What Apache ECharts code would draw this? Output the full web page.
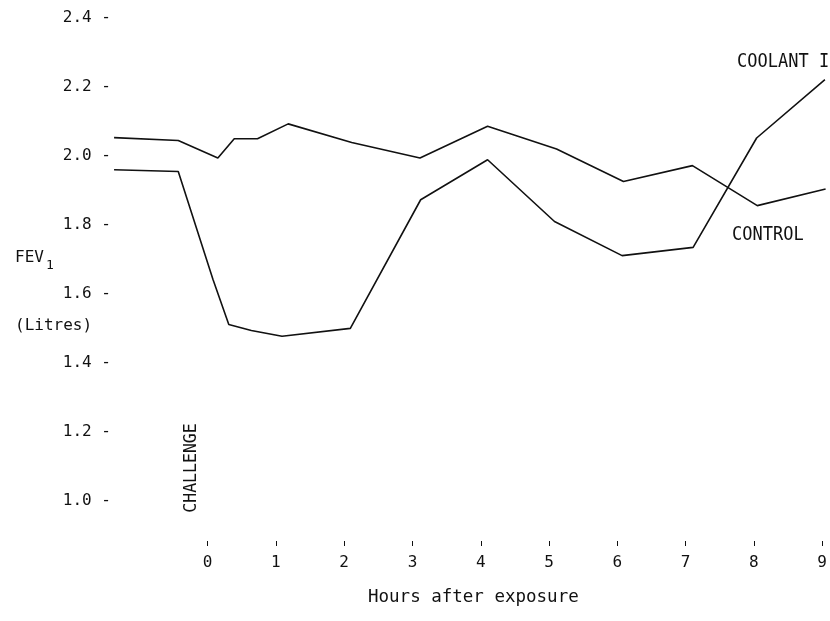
<!DOCTYPE html>
<html>
<head>
<meta charset="utf-8">
<script src="https://cdn.jsdelivr.net/npm/echarts@6/dist/echarts.min.js"></script>
<style>html,body{margin:0;padding:0;background:#fff}#c{width:830px;height:621px}</style>
</head>
<body>
<div id="c"></div>
<script>
// Hours after exposure (x) and FEV1 in litres (y)
const hoursControl = [-1.37, -0.43, 0.15, 0.39, 0.73, 1.18, 2.11, 3.11, 4.10, 5.11, 6.09, 7.10, 8.05, 9.05];
const fevControl   = [2.053, 2.045, 1.994, 2.05, 2.05, 2.093, 2.039, 1.994, 2.086, 2.02, 1.926, 1.972, 1.856, 1.904];
const hoursCoolant = [-1.37, -0.43, 0.08, 0.31, 0.64, 1.09, 2.09, 3.12, 4.10, 5.08, 6.07, 7.11, 8.04, 9.04];
const fevCoolant   = [1.96, 1.955, 1.641, 1.511, 1.494, 1.477, 1.50, 1.873, 1.989, 1.81, 1.711, 1.735, 2.052, 2.221];
const xTicks = [0, 1, 2, 3, 4, 5, 6, 7, 8, 9];
const yTicks = [1.0, 1.2, 1.4, 1.6, 1.8, 2.0, 2.2, 2.4];

const FONT = '"DejaVu Sans Mono", monospace';
const INK = '#111';

const chart = echarts.init(document.getElementById('c'), null, {renderer: 'canvas'});
chart.setOption({
  backgroundColor: '#fff',
  animation: false,
  grid: {left: 114, right: 0, top: 18, bottom: 75, containLabel: false},
  xAxis: {
    type: 'value', min: -1.371, max: 9.073,
    axisLine: {show: false},
    splitLine: {show: false},
    axisTick: {show: true, inside: true, length: 5, customValues: xTicks, lineStyle: {color: INK, width: 1}},
    axisLabel: {customValues: xTicks, margin: 9, fontFamily: FONT, fontSize: 16, color: INK}
  },
  yAxis: {
    type: 'value', min: 0.869, max: 2.4,
    axisLine: {show: false},
    axisTick: {show: false},
    splitLine: {show: false},
    axisLabel: {customValues: yTicks, margin: 3, fontFamily: FONT, fontSize: 16, color: INK,
      formatter: v => v.toFixed(1) + ' -'}
  },
  series: [
    {name: 'CONTROL', type: 'line', symbol: 'none', lineStyle: {color: INK, width: 1.6},
     data: hoursControl.map((h, i) => [h, fevControl[i]])},
    {name: 'COOLANT I', type: 'line', symbol: 'none', lineStyle: {color: INK, width: 1.6},
     data: hoursCoolant.map((h, i) => [h, fevCoolant[i]])}
  ],
  graphic: [
    {type: 'text', x: 737, y: 62, scaleY: 1.15, style: {text: 'COOLANT I', font: '17px ' + FONT, fill: INK, verticalAlign: 'middle'}},
    {type: 'text', x: 732, y: 235, scaleY: 1.15, style: {text: 'CONTROL', font: '17px ' + FONT, fill: INK, verticalAlign: 'middle'}},
    {type: 'text', left: 15, top: 250, style: {text: 'FEV', font: '16px ' + FONT, fill: INK}},
    {type: 'text', left: 46, top: 259, style: {text: '1', font: '13px ' + FONT, fill: INK}},
    {type: 'text', left: 15, top: 318, style: {text: '(Litres)', font: '16px ' + FONT, fill: INK}},
    {type: 'text', left: 368, top: 588, style: {text: 'Hours after exposure', font: '17.5px ' + FONT, fill: INK}},
    {type: 'text', x: 191, y: 468, rotation: Math.PI / 2, scaleY: 1.1,
     style: {text: 'CHALLENGE', font: '16.5px ' + FONT, fill: INK, align: 'center', verticalAlign: 'middle'}}
  ]
});
</script>
</body>
</html>
